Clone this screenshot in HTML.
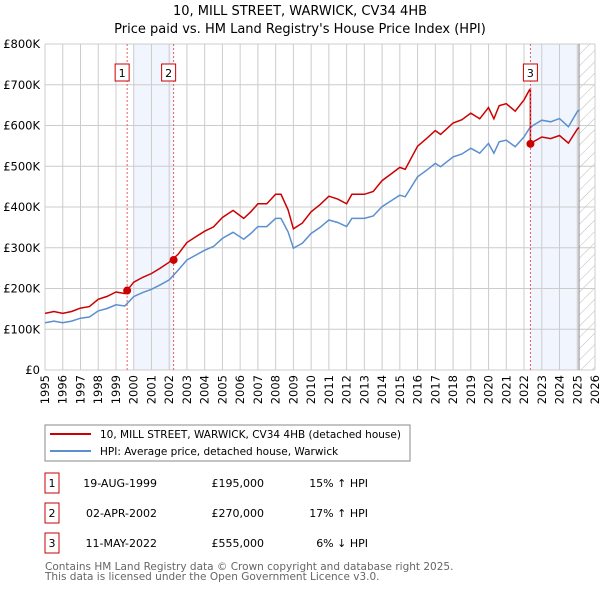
<!DOCTYPE html>
<html><head><meta charset="utf-8"><style>
body{margin:0;background:#fff;}
svg{display:block;font-family:"DejaVu Sans","Liberation Sans",sans-serif;}
</style></head><body>
<svg id="chart" width="600" height="590" viewBox="0 0 600 590">
<text x="300" y="15" text-anchor="middle" font-size="13">10, MILL STREET, WARWICK, CV34 4HB</text>
<text x="300" y="33" text-anchor="middle" font-size="13">Price paid vs. HM Land Registry's House Price Index (HPI)</text>
<defs><pattern id="hatch" width="8" height="8" patternUnits="userSpaceOnUse" patternTransform="rotate(45)"><line x1="0" y1="0" x2="0" y2="8" stroke="#bbb" stroke-width="1"/></pattern>
<clipPath id="pc"><rect x="45" y="44" width="550" height="326"/></clipPath></defs>
<g id="bands"></g><g id="grid"></g><g id="series" clip-path="url(#pc)"></g><g id="axes"></g><g id="marks"></g>
<rect x="45" y="425" width="365" height="36" fill="#fff" stroke="#888"/>
<line x1="50" y1="434" x2="91" y2="434" stroke="#cc0000" stroke-width="2"/>
<text x="100" y="438" font-size="10.5">10, MILL STREET, WARWICK, CV34 4HB (detached house)</text>
<line x1="50" y1="451" x2="91" y2="451" stroke="#5b8fd0" stroke-width="2"/>
<text x="100" y="455" font-size="10.5">HPI: Average price, detached house, Warwick</text>
<g font-size="11" id="table"></g>
<text x="45" y="570" font-size="10.5" fill="#666">Contains HM Land Registry data © Crown copyright and database right 2025.</text>
<text x="45" y="580" font-size="10.5" fill="#666">This data is licensed under the Open Government Licence v3.0.</text>
</svg>
<script>
const hpiYears=[1995,1995.5,1996,1996.5,1997,1997.5,1998,1998.5,1999,1999.5,2000,2000.5,2001,2001.5,2002,2002.5,2003,2003.5,2004,2004.5,2005,2005.6,2006.2,2006.6,2007,2007.5,2008,2008.3,2008.7,2009.0,2009.5,2010,2010.5,2011,2011.5,2012,2012.3,2013,2013.5,2014,2014.5,2015,2015.3,2016,2016.5,2017,2017.3,2018,2018.5,2019,2019.5,2020,2020.3,2020.6,2021,2021.5,2022,2022.3,2022.5,2023,2023.5,2024,2024.5,2025,2025.1];
const hpiValues=[116,120,116,120,127,130,145,151,160,157,180,190,198,209,221,245,270,282,294,303,323,338,321,335,352,352,372,372,339,299,311,335,350,368,362,352,372,372,378,401,415,429,425,474,490,507,499,523,530,544,532,556,532,560,564,548,572,593,600,613,609,617,597,634,638];
const saleDates=[1999.63,2002.25,2022.36];
const salePrices=[195,270,555];
const saleLabels=["1","2","3"];
const saleDateText=["19-AUG-1999","02-APR-2002","11-MAY-2022"];
const salePriceText=["£195,000","£270,000","£555,000"];
const saleHpiText=["15% ↑ HPI","17% ↑ HPI","6% ↓ HPI"];
const yTicks=[0,100,200,300,400,500,600,700,800];
const yTickLabels=["£0","£100K","£200K","£300K","£400K","£500K","£600K","£700K","£800K"];
const xTicks=[1995,1996,1997,1998,1999,2000,2001,2002,2003,2004,2005,2006,2007,2008,2009,2010,2011,2012,2013,2014,2015,2016,2017,2018,2019,2020,2021,2022,2023,2024,2025,2026];
const dataEnd=2025.1;

const NS="http://www.w3.org/2000/svg";
const X=t=>45+(t-1995)*550/31;
const Y=v=>370-v*326/800;
function mk(tag,attrs,parent){const e=document.createElementNS(NS,tag);for(const k in attrs)e.setAttribute(k,attrs[k]);document.getElementById(parent).appendChild(e);return e;}
function interp(t){for(let i=0;i<hpiYears.length-1;i++){if(t>=hpiYears[i]&&t<=hpiYears[i+1]){const f=(t-hpiYears[i])/(hpiYears[i+1]-hpiYears[i]);return hpiValues[i]+f*(hpiValues[i+1]-hpiValues[i]);}}return hpiValues[hpiValues.length-1];}

let b;
b=mk('rect',{x:X(2000),y:44,width:X(saleDates[1])-X(2000),height:326,fill:'#eef3fc',opacity:0.8},'bands');


b=mk('rect',{x:X(saleDates[2]),y:44,width:X(dataEnd)-X(saleDates[2]),height:326,fill:'#eef3fc',opacity:0.8},'bands');


b=mk('rect',{x:X(dataEnd),y:44,width:595-X(dataEnd),height:326,fill:'url(#hatch)'},'bands');



yTicks.forEach((v,i)=>{
 const l=mk('line',{x1:45,x2:595,y1:Y(v),y2:Y(v),stroke:'#ccc'},'grid');
 
 
 const t=mk('text',{x:40,y:Y(v)+4,'text-anchor':'end','font-size':11.5},'axes');t.textContent=yTickLabels[i];
 
 
});
xTicks.forEach(yr=>{
 const l=mk('line',{x1:X(yr),x2:X(yr),y1:44,y2:370,stroke:'#ccc'},'grid');
 
 
 const t=mk('text',{x:0,y:0,'text-anchor':'end','font-size':11.5,transform:`translate(${X(yr)+4},375) rotate(-90)`},'axes');t.textContent=yr;
 
 
});
let vl=mk('line',{x1:X(dataEnd),x2:X(dataEnd),y1:44,y2:370,stroke:'#888'},'grid');



const hp=hpiYears.map((t,i)=>X(t).toFixed(1)+','+Y(hpiValues[i]).toFixed(1)).join(' ');
const hl=mk('polyline',{points:hp,fill:'none',stroke:'#5b8fd0','stroke-width':1.5},'series');



const pts=[];
hpiYears.forEach((t,i)=>{
 let k=0;for(let j=0;j<saleDates.length;j++){if(saleDates[j]<=t)k=j;}
 if(t<saleDates[2]){const r=salePrices[k]/interp(saleDates[k]);pts.push([t,hpiValues[i]*r]);}
});
const rPre=salePrices[1]/interp(saleDates[1]);
pts.push([saleDates[2],interp(saleDates[2])*rPre]);
pts.push([saleDates[2],salePrices[2]]);
const rPost=salePrices[2]/interp(saleDates[2]);
hpiYears.forEach((t,i)=>{if(t>saleDates[2])pts.push([t,hpiValues[i]*rPost]);});
const rl=mk('polyline',{points:pts.map(p=>X(p[0]).toFixed(1)+','+Y(p[1]).toFixed(1)).join(' '),fill:'none',stroke:'#cc0000','stroke-width':1.5},'series');



saleDates.forEach((t,i)=>{
 const l=mk('line',{x1:X(t),x2:X(t),y1:44,y2:370,stroke:'#e06060','stroke-dasharray':'2,2'},'marks');
 
 
 const c=mk('circle',{cx:X(t),cy:Y(salePrices[i]),r:4,fill:'#cc0000'},'marks');
 
 
 const bx=X(t)-(i<2?5:0);
 const r=mk('rect',{x:bx-7,y:64,width:14,height:17,fill:'#fff',stroke:'#cc0000'},'marks');
 
 
 const tx=mk('text',{x:bx,y:77,'text-anchor':'middle','font-size':11},'marks');tx.textContent=saleLabels[i];
 
 
});

saleLabels.forEach((lab,i)=>{
 const y=483+i*30;
 const r=mk('rect',{x:45,y:y-10,width:14,height:20,fill:'#fff',stroke:'#cc0000'},'table');
 
 
 const cells=[[52,lab,'middle'],[157,saleDateText[i],'end'],[264,salePriceText[i],'end'],[368,saleHpiText[i],'end']];
 cells.forEach((c,j)=>{const t=mk('text',{x:c[0],y:y+4,'text-anchor':c[2]},'table');t.textContent=c[1];
  
  });
});
</script>
</body></html>
